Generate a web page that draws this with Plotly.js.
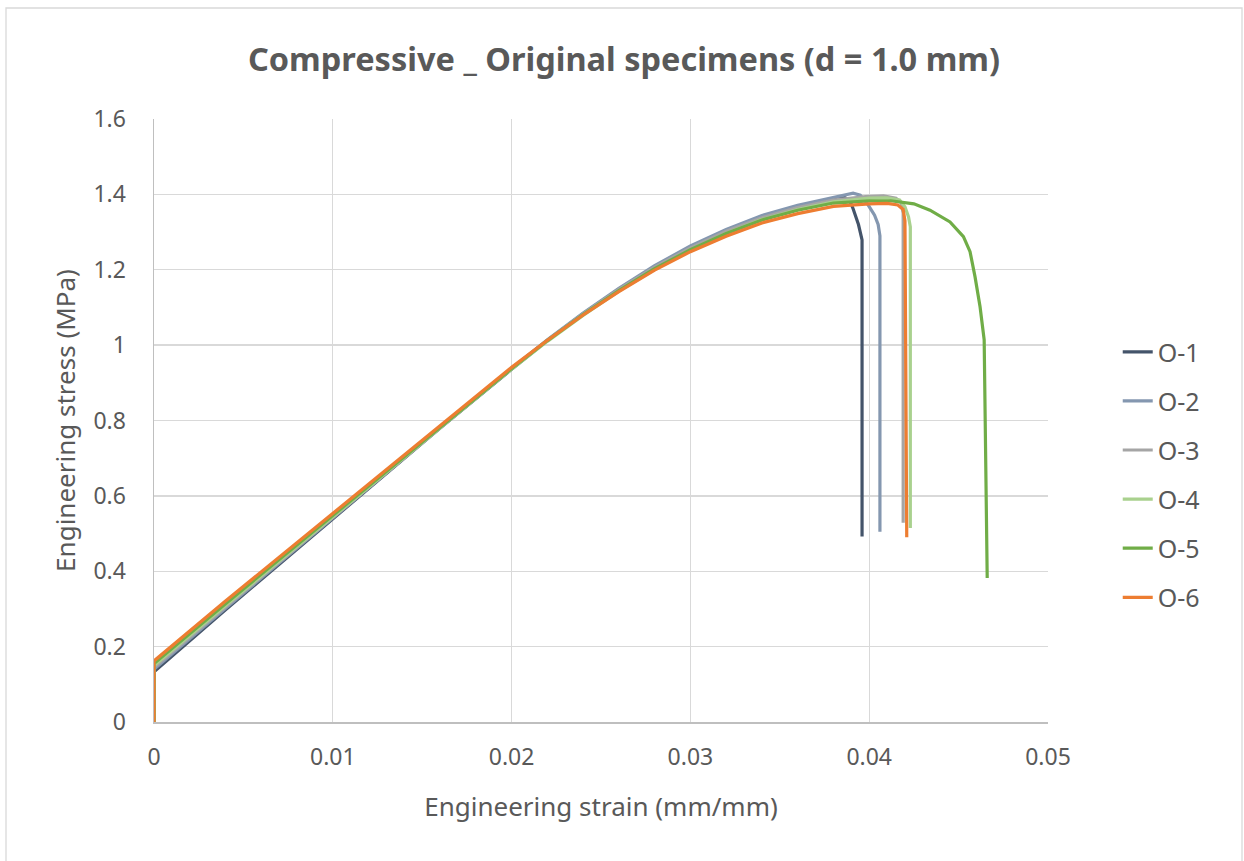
<!DOCTYPE html>
<html>
<head>
<meta charset="utf-8">
<script src="https://cdn.plot.ly/plotly-3.0.1.min.js"></script>
<style>
html,body{margin:0;padding:0;background:#fff;}
#chart{width:1244px;height:861px;}
</style>
</head>
<body>
<div id="chart"></div>
<script>
// ---- data ----
var seriesNames = ["O-1", "O-2", "O-3", "O-4", "O-5", "O-6"];
var seriesColors = ["#44546A", "#8497B0", "#A5A5A5", "#A9D18E", "#70AD47", "#ED7D31"];

// common strain points of the loading branch
var strainRise = [0, 0.004, 0.008, 0.012, 0.016, 0.020, 0.022, 0.024, 0.026, 0.028, 0.030, 0.032, 0.034, 0.036, 0.038];

var stressRiseO1 = [0.133, 0.298, 0.459, 0.620, 0.780, 0.936, 1.012, 1.083, 1.149, 1.208, 1.259, 1.303, 1.340, 1.368, 1.389];
var stressRiseO2 = [0.140, 0.302, 0.462, 0.621, 0.781, 0.938, 1.014, 1.085, 1.151, 1.211, 1.263, 1.307, 1.344, 1.371, 1.392];
var stressRiseO3 = [0.145, 0.306, 0.464, 0.623, 0.782, 0.938, 1.013, 1.083, 1.148, 1.207, 1.258, 1.302, 1.338, 1.365, 1.385];
var stressRiseO4 = [0.150, 0.309, 0.465, 0.623, 0.781, 0.936, 1.010, 1.079, 1.143, 1.201, 1.252, 1.296, 1.333, 1.360, 1.380];
var stressRiseO5 = [0.155, 0.314, 0.470, 0.627, 0.784, 0.938, 1.012, 1.081, 1.145, 1.203, 1.253, 1.296, 1.332, 1.358, 1.377];
var stressRiseO6 = [0.162, 0.321, 0.476, 0.632, 0.788, 0.941, 1.013, 1.080, 1.142, 1.199, 1.248, 1.289, 1.324, 1.349, 1.368];

// peak and failure branch of each specimen
var strainEndO1 = [0.0386, 0.0389, 0.0391, 0.0394, 0.0396, 0.0396];
var stressEndO1 = [1.392, 1.385, 1.362, 1.320, 1.279, 0.492];

var strainEndO2 = [0.0391, 0.0395, 0.0399, 0.0403, 0.0405, 0.0406, 0.0406];
var stressEndO2 = [1.403, 1.398, 1.375, 1.345, 1.320, 1.290, 0.505];

var strainEndO3 = [0.0398, 0.0408, 0.0415, 0.0418, 0.0419, 0.0419];
var stressEndO3 = [1.394, 1.396, 1.390, 1.377, 1.350, 0.529];

var strainEndO4 = [0.0400, 0.0410, 0.0417, 0.0420, 0.0422, 0.0423, 0.0423];
var stressEndO4 = [1.390, 1.391, 1.385, 1.367, 1.340, 1.314, 0.515];

var strainEndO5 = [0.0400, 0.0412, 0.0418, 0.0425, 0.0434, 0.04452, 0.04527, 0.04564, 0.04592, 0.0462, 0.04643, 0.04647, 0.0466];
var stressEndO5 = [1.383, 1.383, 1.380, 1.375, 1.358, 1.327, 1.288, 1.248, 1.181, 1.102, 1.014, 0.881, 0.382];

var strainEndO6 = [0.0400, 0.0410, 0.0416, 0.0419, 0.0420, 0.0421];
var stressEndO6 = [1.375, 1.376, 1.372, 1.360, 1.330, 0.490];

var stressRise = [stressRiseO1, stressRiseO2, stressRiseO3, stressRiseO4, stressRiseO5, stressRiseO6];
var strainEnd = [strainEndO1, strainEndO2, strainEndO3, strainEndO4, strainEndO5, strainEndO6];
var stressEnd = [stressEndO1, stressEndO2, stressEndO3, stressEndO4, stressEndO5, stressEndO6];

var titleText = "Compressive _ Original specimens (d = 1.0 mm)";
var xTitle = "Engineering strain (mm/mm)";
var yTitle = "Engineering stress (MPa)";

// ---- build chart ----
var FONT = "'Noto Sans', 'Open Sans', 'DejaVu Sans', sans-serif";
var textColor = "#595959";

var traces = seriesNames.map(function (name, i) {
  // each curve starts at the origin, jumps to its first reading, then follows its branches
  var xs = [0].concat(strainRise, strainEnd[i]);
  var ys = [0].concat(stressRise[i], stressEnd[i]);
  return {
    type: "scatter",
    mode: "lines",
    name: name,
    legendgroup: "g" + i,
    x: xs,
    y: ys,
    line: { color: seriesColors[i], width: 3.2 },
    hoverinfo: "skip"
  };
});

var layout = {
  width: 1244,
  height: 861,
  paper_bgcolor: "#ffffff",
  plot_bgcolor: "#ffffff",
  margin: { l: 154, r: 196, t: 119, b: 139, pad: 0 },
  font: { family: FONT, color: textColor, size: 23 },
  title: {
    text: "<b>" + titleText + "</b>",
    font: { family: FONT, size: 32.5, color: textColor },
    x: 624 / 1244, xanchor: "center", xref: "container",
    y: 1 - 60 / 861, yanchor: "middle", yref: "container"
  },
  xaxis: {
    range: [0, 0.05],
    dtick: 0.01,
    tick0: 0,
    showgrid: true,
    gridcolor: "#D9D9D9",
    gridwidth: 1.3,
    zeroline: false,
    showline: true,
    linecolor: "#BFBFBF",
    linewidth: 1.5,
    ticks: "outside",
    ticklen: 14,
    tickcolor: "rgba(0,0,0,0)",
    tickfont: { family: FONT, size: 23, color: textColor },
    title: { text: xTitle, font: { family: FONT, size: 26, color: textColor }, standoff: 26 },
    fixedrange: true
  },
  yaxis: {
    range: [0, 1.6],
    dtick: 0.2,
    tick0: 0,
    showgrid: true,
    gridcolor: "#D9D9D9",
    gridwidth: 1.3,
    zeroline: false,
    showline: true,
    linecolor: "#BFBFBF",
    linewidth: 1.5,
    ticks: "outside",
    ticklen: 22,
    tickcolor: "rgba(0,0,0,0)",
    tickfont: { family: FONT, size: 23, color: textColor },
    title: { text: yTitle, font: { family: FONT, size: 26, color: textColor }, standoff: 10 },
    fixedrange: true
  },
  showlegend: true,
  legend: {
    x: 1.078, xanchor: "left",
    y: 0.4104, yanchor: "middle",
    font: { family: FONT, size: 25, color: textColor },
    tracegroupgap: 13.6,
    bgcolor: "rgba(0,0,0,0)",
    itemclick: false, itemdoubleclick: false
  },
  shapes: [{
    type: "rect", xref: "paper", yref: "paper",
    x0: (6 - 154) / 894, x1: (1242 - 154) / 894,
    y0: (722 - 875) / 603, y1: (722 - 8) / 603,
    line: { color: "#D9D9D9", width: 1.3 },
    fillcolor: "rgba(0,0,0,0)",
    layer: "below"
  }]
};

Plotly.newPlot("chart", traces, layout, { displayModeBar: false, staticPlot: true });
</script>
</body>
</html>
